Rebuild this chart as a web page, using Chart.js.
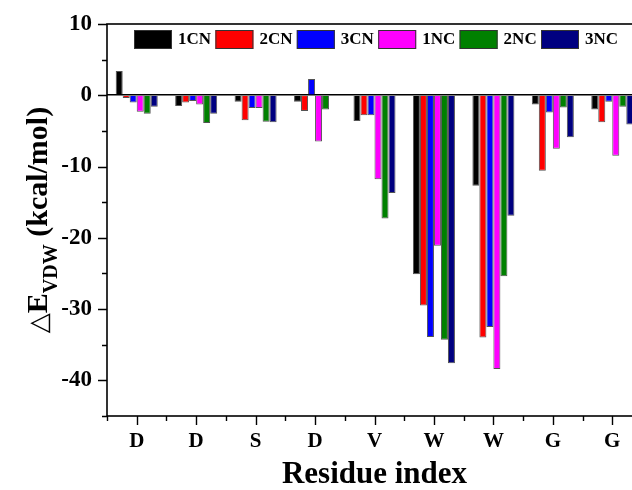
<!DOCTYPE html>
<html>
<head>
<meta charset="utf-8">
<script src="https://cdn.jsdelivr.net/npm/chart.js@4.4.1/dist/chart.umd.min.js"></script>
<style>
  html, body { margin: 0; padding: 0; background: #fff; overflow: hidden; }
  #wrap { width: 650px; height: 490px; }
</style>
</head>
<body>
<div id="wrap"><canvas id="vdwChart" width="650" height="490"></canvas></div>
<script>
// residues along the x axis
const residues = ["D", "D", "S", "D", "V", "W", "W", "G", "G"];

// van der Waals contribution per residue (kcal/mol)
const cn1 = [3.4, -1.5, -0.9, -0.9, -3.6, -25.1, -12.7, -1.3, -2.0];
const cn2 = [-0.4, -1.0, -3.5, -2.2, -2.8, -29.5, -34.0, -10.6, -3.8];
const cn3 = [-1.0, -0.8, -1.8, 2.3, -2.8, -33.9, -32.5, -2.4, -0.9];
const nc1 = [-2.3, -1.3, -1.8, -6.5, -11.8, -21.1, -38.4, -7.5, -8.5];
const nc2 = [-2.6, -3.9, -3.7, -2.0, -17.3, -34.3, -25.4, -1.7, -1.6];
const nc3 = [-1.6, -2.6, -3.8, -0.1, -13.7, -37.6, -16.9, -5.9, -4.1];

const seriesNames = ["1CN", "2CN", "3CN", "1NC", "2NC", "3NC"];
const seriesColors = ["#000000", "#ff0000", "#0000ff", "#ff00ff", "#008000", "#000080"];

// y axis range and ticks
const yMin = -45;
const yMax = 10;
const yStep = 5;

const SERIF = "'Liberation Serif', 'Times New Roman', serif";

(function () {
  const canvas = document.getElementById("vdwChart");
  if (!canvas || typeof Chart === "undefined") return;

  const values = [cn1, cn2, cn3, nc1, nc2, nc3];

  // box frame plus minor/major tick marks
  const framePlugin = {
    id: "frame",
    afterDraw(chart) {
      const { ctx, chartArea: a, scales } = chart;
      ctx.save();
      ctx.strokeStyle = "#000";
      ctx.lineWidth = 1.6;
      ctx.strokeRect(a.left, a.top, a.right - a.left, a.bottom - a.top);

      ctx.lineWidth = 1.4;
      ctx.beginPath();
      for (let v = yMin; v <= yMax; v += yStep) {
        const y = Math.round(scales.y.getPixelForValue(v)) + 0.5;
        const len = v % 10 === 0 ? 9 : 5;
        ctx.moveTo(a.left, y);
        ctx.lineTo(a.left - len, y);
      }
      for (let i = 0; i < residues.length; i++) {
        const xc = Math.round(scales.x.getPixelForValue(i)) + 0.5;
        ctx.moveTo(xc, a.bottom);
        ctx.lineTo(xc, a.bottom + 9);
        const xb = Math.round(scales.x.getPixelForValue(i - 0.5)) + 0.5;
        ctx.moveTo(xb, a.bottom);
        ctx.lineTo(xb, a.bottom + 5);
      }
      ctx.stroke();
      ctx.restore();
    }
  };

  // legend row inside the plot
  const legendPlugin = {
    id: "innerLegend",
    afterDraw(chart) {
      const ctx = chart.ctx;
      ctx.save();
      ctx.font = "bold 17px " + SERIF;
      ctx.textBaseline = "middle";
      chart.data.datasets.forEach((ds, i) => {
        const x = 134 + i * 81.4;
        const y = 30;
        ctx.fillStyle = ds.backgroundColor;
        ctx.fillRect(x, y, 38, 19);
        ctx.strokeStyle = "#333";
        ctx.lineWidth = 1;
        ctx.strokeRect(x + 0.5, y + 0.5, 37, 18);
        ctx.fillStyle = "#000";
        ctx.fillText(ds.label, x + 44, y + 10);
      });
      ctx.restore();
    }
  };

  // rotated y title with subscript
  const yTitlePlugin = {
    id: "yTitle",
    afterDraw(chart) {
      const ctx = chart.ctx;
      const a = chart.chartArea;
      const triFont = "26px 'DejaVu Sans', 'Noto Sans CJK SC'";
      const mainFont = "bold 30px " + SERIF;
      const subFont = "bold 20px " + SERIF;
      const parts = [
        { t: "\u25B3", f: triFont, dy: 0 },
        { t: "E", f: mainFont, dy: 0 },
        { t: "VDW", f: subFont, dy: 10 },
        { t: " (kcal/mol)", f: mainFont, dy: 0 }
      ];
      ctx.save();
      let total = 0;
      parts.forEach((p) => {
        ctx.font = p.f;
        p.w = ctx.measureText(p.t).width;
        total += p.w;
      });
      ctx.translate(47, (a.top + a.bottom) / 2);
      ctx.rotate(-Math.PI / 2);
      ctx.fillStyle = "#000";
      ctx.textBaseline = "alphabetic";
      let x = -total / 2;
      parts.forEach((p) => {
        ctx.font = p.f;
        ctx.fillText(p.t, x, p.dy);
        x += p.w;
      });
      ctx.restore();
    }
  };

  new Chart(canvas, {
    type: "bar",
    data: {
      labels: residues,
      datasets: seriesNames.map((name, i) => ({
        label: name,
        data: values[i],
        backgroundColor: seriesColors[i],
        borderColor: "rgba(40,40,40,0.8)",
        borderWidth: 1,
        categoryPercentage: 0.707,
        barPercentage: 1
      }))
    },
    options: {
      responsive: false,
      animation: false,
      layout: { autoPadding: false, padding: { top: 24, right: 8, left: 0, bottom: 0 } },
      plugins: {
        legend: { display: false },
        tooltip: { enabled: false }
      },
      scales: {
        x: {
          grid: { display: false, drawTicks: false },
          border: { display: false },
          ticks: {
            padding: 13,
            color: "#000",
            font: { family: SERIF, size: 21, weight: "bold" }
          },
          title: {
            display: true,
            text: "Residue index",
            color: "#000",
            padding: { top: 0, bottom: 0 },
            font: { family: SERIF, size: 31, weight: "bold", lineHeight: 1 }
          },
          afterFit(scale) { scale.height = 74; }
        },
        y: {
          min: yMin,
          max: yMax,
          grid: {
            drawTicks: false,
            lineWidth: 1.6,
            color: (c) => (c.tick && c.tick.value === 0 ? "#000" : "rgba(0,0,0,0)")
          },
          border: { display: false },
          ticks: {
            stepSize: yStep,
            padding: 15,
            color: "#000",
            // small line height keeps the top label from pushing the plot down
            font: { family: SERIF, size: 23, weight: "bold", lineHeight: 0.3 },
            callback: (v) => (v % 10 === 0 ? v : "")
          },
          afterFit(scale) { scale.width = 107; }
        }
      }
    },
    plugins: [framePlugin, legendPlugin, yTitlePlugin]
  });
})();
</script>
</body>
</html>
